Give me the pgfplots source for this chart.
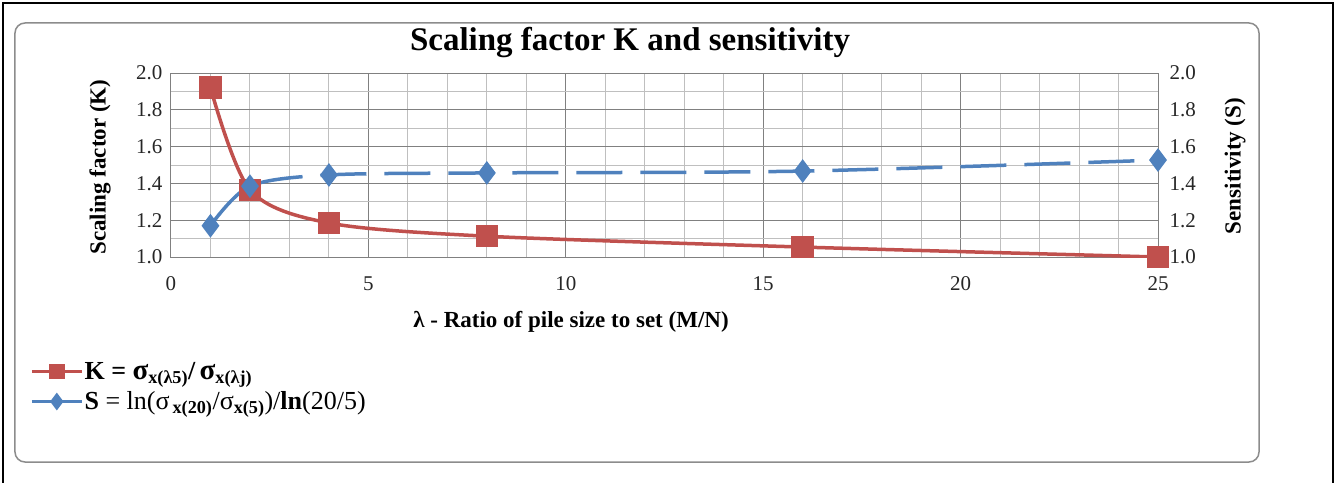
\documentclass[border=0pt]{standalone}
\usepackage{fontspec}
\setmainfont{Liberation Serif}
\usepackage{pgfplots}
\pgfplotsset{compat=1.18}
\definecolor{kred}{HTML}{C0504D}
\definecolor{sblue}{HTML}{4F81BD}
\begin{document}
\begin{tikzpicture}[x=1pt,y=1pt]
\begin{axis}[
 at={(0pt,0pt)}, anchor=south west, scale only axis, width=987pt, height=184pt,
 xmin=0, xmax=25, ymin=1, ymax=2,
 xtick={0,5,10,15,20,25}, minor x tick num=4,
 ytick={1.0,1.2,1.4,1.6,1.8,2.0}, minor y tick num=1,
 grid=both,
 major grid style={black!50, line width=1pt},
 minor grid style={black!25, line width=1pt},
 axis line style={black!50, line width=1pt},
 major tick length=0pt, minor tick length=0pt,
 tick label style={font=\fontsize{21}{21}\selectfont, text=black!85},
 /pgf/number format/assume math mode=true,
 y tick label style={/pgf/number format/fixed, /pgf/number format/fixed zerofill, /pgf/number format/precision=1, xshift=-5pt},
 x tick label style={yshift=-16pt},
 legend style={at={(axis description cs:-0.143,-0.565)}, anchor=north west, draw=none, fill=none,
   inner sep=0pt, font=\fontsize{26}{26}\selectfont, row sep=9pt, nodes={inner sep=1pt}},
 legend cell align=left,
 legend image code/.code={\draw[#1, mark repeat=2, mark phase=2] plot coordinates {(0pt,0pt) (25pt,0pt) (50pt,0pt)};},
]
\addplot[kred, line width=3.5pt, smooth, mark=square*, mark size=9.5pt, mark options={solid},
  legend image post style={mark size=6pt}]
  coordinates {(1,1.92) (2,1.365) (4,1.185) (8,1.113) (16,1.054) (25,1.0)};
\addlegendentry{\textbf{K =\ {\fontsize{29}{29}\selectfont σ}\textsubscript{x(λ5)}/\,{\fontsize{29}{29}\selectfont σ}\textsubscript{x(λj)}}}
\addplot[sblue, line width=3.5pt, smooth, dash pattern=on 46pt off 18pt, mark=diamond*, mark size=9pt, mark options={solid},
  legend image post style={mark size=6pt, solid}]
  coordinates {(1,1.17) (2,1.385) (4,1.446) (8,1.457) (16,1.467) (25,1.527)};
\addlegendentry{\textbf{S} = ln(σ\textsubscript{\,\textbf{x(20)}}/σ\textsubscript{\textbf{x(5)}})/\textbf{ln}(20/5)}
\end{axis}
\begin{axis}[
 at={(0pt,0pt)}, anchor=south west, scale only axis, width=987pt, height=184pt,
 xmin=0, xmax=25, ymin=1, ymax=2,
 axis x line=none, axis y line*=right,
 ytick={1.0,1.2,1.4,1.6,1.8,2.0},
 axis line style={draw=none},
 major tick length=0pt,
 tick label style={font=\fontsize{21}{21}\selectfont, text=black!85},
 /pgf/number format/assume math mode=true,
 y tick label style={/pgf/number format/fixed, /pgf/number format/fixed zerofill, /pgf/number format/precision=1, xshift=8pt},
]
\end{axis}
\node[font=\bfseries\fontsize{33}{33}\selectfont] at (459,214) {Scaling factor K and sensitivity};
\node[font=\bfseries\fontsize{23}{23}\selectfont, rotate=90] at (-71,90) {Scaling factor (K)};
\node[font=\bfseries\fontsize{23}{23}\selectfont, rotate=90] at (1064,91) {Sensitivity (S)};
\node[font=\bfseries\fontsize{23}{23}\selectfont] at (400,-65) {λ - Ratio of pile size to set (M/N)};
\draw[black!45, line width=1.5pt, rounded corners=10pt] (-156,234) rectangle (1088,-205);
\draw[black, line width=2pt] (-168,-230) -- (-168,254) -- (1162,254) -- (1162,-230);
\pgfresetboundingbox
\path[use as bounding box] (-171,-225) rectangle (1164,257);
\end{tikzpicture}
\end{document}
